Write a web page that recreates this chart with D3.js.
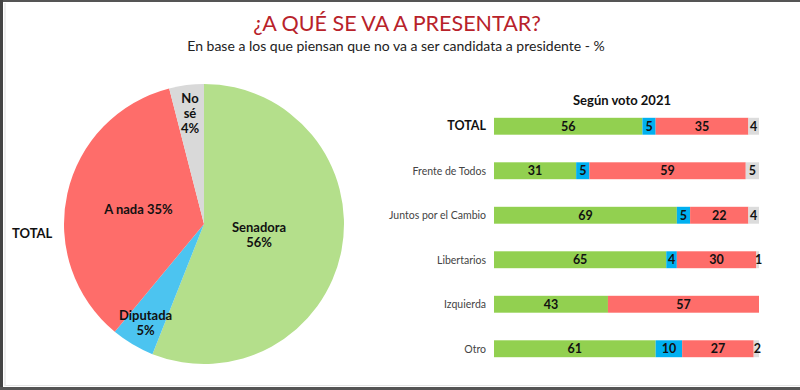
<!DOCTYPE html>
<html><head><meta charset="utf-8">
<script src="https://cdn.jsdelivr.net/npm/d3@7"></script>
<style>body{margin:0;background:#fff;}svg{display:block;font-family:Lato,"Open Sans",sans-serif;}</style>
</head><body>
<svg id="c" width="800" height="390"></svg>
<script>
const pieLabels = ["Senadora", "Diputada", "A nada", "No sé"];
const pieValues = [56, 5, 35, 4];
const pieColors = ["#b4df8b", "#4cc4f0", "#fe6d6a", "#d9d9d9"];

const barCategories = ["TOTAL", "Frente de Todos", "Juntos por el Cambio", "Libertarios", "Izquierda", "Otro"];
const seriesNames = ["Senadora", "Diputada", "A nada", "No sé"];
const senadora = [56, 31, 69, 65, 43, 61];
const diputada = [5, 5, 5, 4, 0, 10];
const aNada = [35, 59, 22, 30, 57, 27];
const noSe = [4, 5, 4, 1, 0, 2];
const barColors = ["#92d050", "#00b0f0", "#fe6d6a", "#dcdcdc"];

const svg = d3.select("#c");

// frame
svg.append("rect").attr("x",0).attr("y",0).attr("width",800).attr("height",2).attr("fill","#555");
svg.append("rect").attr("x",0).attr("y",0).attr("width",3).attr("height",390).attr("fill","#444");
svg.append("rect").attr("x",0).attr("y",387).attr("width",800).attr("height",3).attr("fill","#555");
svg.append("line").attr("x1",5).attr("x2",5).attr("y1",3).attr("y2",386).attr("stroke","#ddd");
svg.append("line").attr("x1",5).attr("x2",800).attr("y1",385.5).attr("y2",385.5).attr("stroke","#e4e4e4");

// titles
svg.append("text").attr("x",397).attr("y",31).attr("text-anchor","middle")
  .attr("font-size",21.5).attr("fill","#b8222a").text("¿A QUÉ SE VA A PRESENTAR?");
svg.append("text").attr("x",396).attr("y",51).attr("text-anchor","middle")
  .attr("font-size",14).attr("fill","#222").text("En base a los que piensan que no va a ser candidata a presidente - %");

// pie
const cx = 204, cy = 224, r = 140;
const pie = d3.pie().sort(null).value(d => d)(pieValues);
const arc = d3.arc().innerRadius(0).outerRadius(r);
const g = svg.append("g").attr("transform", `translate(${cx},${cy})`);
g.selectAll("path").data(pie).join("path").attr("d", arc).attr("fill", (d,i) => pieColors[i]);

const pieLabelLines = [
  [`${pieLabels[0]}`, `${pieValues[0]}%`],
  [`${pieLabels[1]}`, `${pieValues[1]}%`],
  [`${pieLabels[2]} ${pieValues[2]}%`],
  ["No", "sé", `${pieValues[3]}%`]
];
const labelR = [0.4, 0.82, 0.48, 0.8];
const lineH = 15;
pie.forEach((d,i) => {
  const la = d3.arc().innerRadius(r*labelR[i]).outerRadius(r*labelR[i]);
  let [x,y] = la.centroid(d);
  const lines = pieLabelLines[i];
  const t = g.append("text").attr("text-anchor","middle").attr("font-size",13).attr("font-weight","bold").attr("fill","#111");
  const y0 = y - (lines.length-1)*lineH/2 + 5;
  lines.forEach((s,k) => t.append("tspan").attr("x",x).attr("y",y0+k*lineH).text(s));
});
svg.append("text").attr("x",12).attr("y",238).attr("font-size",13).attr("font-weight","bold").attr("fill","#111").text("TOTAL");

// bars
const series = [senadora, diputada, aNada, noSe];
const x = d3.scaleLinear().domain([0,100]).range([494,759]);
const y = d3.scaleBand().domain(barCategories).range([104,371]).paddingInner(0.62).paddingOuter(0.31);
svg.append("text").attr("x",622).attr("y",105).attr("text-anchor","middle").attr("font-size",13).attr("font-weight","bold").attr("fill","#111").text("Según voto 2021");

barCategories.forEach((cat,ci) => {
  let acc = 0;
  const yy = y(cat), h = y.bandwidth();
  series.forEach((s,si) => {
    const v = s[ci];
    if (v > 0) {
      svg.append("rect").attr("x", x(acc)).attr("y", yy).attr("width", x(acc+v)-x(acc)).attr("height", h).attr("fill", barColors[si]);
      svg.append("text").attr("x", (x(acc)+x(acc+v))/2 + (v<3?1:0)).attr("y", yy+h/2+4.5).attr("text-anchor","middle")
        .attr("font-size",12.5).attr("font-weight","bold").attr("fill","#111").text(v);
    }
    acc += v;
  });
  const isTotal = ci === 0;
  svg.append("text").attr("x",486).attr("y",yy+h/2+4).attr("text-anchor","end")
    .attr("font-size", isTotal?12.5:10.5).attr("font-weight", isTotal?"bold":"normal").attr("fill", isTotal?"#111":"#444").text(cat);
});
</script>
</body></html>
